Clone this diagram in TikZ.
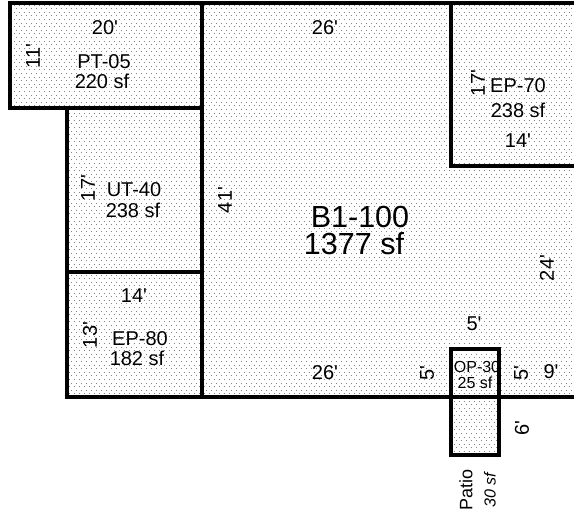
\documentclass[tikz,border=0pt]{standalone}
\usepackage{fontspec}
\newfontfamily\lab{Liberation Sans}
\tikzset{
  wall/.style={line width=3.8pt,line cap=rect,line join=miter},
  stipple/.style={line width=1pt,black!48,dash pattern=on 1pt off 4pt},
  dimv/.style={font=\lab\fontsize{20}{20}\selectfont,inner sep=0pt},
  dimr/.style={dimv,rotate=90},
  big/.style={font=\lab\fontsize{30.5}{30.5}\selectfont,inner sep=0pt},
  small/.style={font=\lab\fontsize{16}{16}\selectfont,inner sep=0pt}
}
\begin{document}
\begin{tikzpicture}[x=1pt,y=-1pt]
\useasboundingbox (0,0) rectangle (574,514);
\fill[white] (0,0) rectangle (574,514);
\begin{scope}
\clip (9,3)--(574,3)--(574,397)--(499,397)--(499,455)--(451,455)--(451,397)--(67,397)--(67,108)--(9,108)--cycle;
\foreach \r in {0,...,63}{
  \draw[stipple] (1,{\r*7.2+1.5})--(574,{\r*7.2+1.5});
  \draw[stipple] (3.5,{\r*7.2+5.1})--(574,{\r*7.2+5.1});
}
\end{scope}
\node[dimv] (a1) at (105,28) {20'};
\node[dimr] (a2) at (33,56) {11'};
\node[dimv] (a3) at (104,62) {PT-05};
\node[dimv] (a4) at (102,81) {220 sf};
\node[dimv] (b1) at (325,28) {26'};
\node[dimr] (c1) at (478,83) {17'};
\node[dimv] (c2) at (518,86) {EP-70};
\node[dimv] (c3) at (518,110) {238 sf};
\node[dimv] (c4) at (518,141) {14'};
\node[dimr] (d1) at (88,188) {17'};
\node[dimv] (d2) at (134,190) {UT-40};
\node[dimv] (d3) at (133,210) {238 sf};
\node[dimr] (e1) at (225,200) {41'};
\node[big] (f1) at (360,217) {B1-100};
\node[big] (f2) at (354,244) {1377 sf};
\node[dimr] (g1) at (547,268) {24'};
\node[dimv] (h1) at (134,296) {14'};
\node[dimr] (h2) at (90,335) {13'};
\node[dimv] (h3) at (140,339) {EP-80};
\node[dimv] (h4) at (137,358) {182 sf};
\node[dimv] (i1) at (325,373) {26'};
\node[dimv] (j1) at (474,324) {5'};
\node[dimr] (j2) at (427,373) {5'};
\node[small] (j3) at (477,367) {OP-30};
\node[small] (j4) at (475,383) {25 sf};
\node[dimr] (j5) at (521,373) {5'};
\node[dimv] (j6) at (551,372) {9'};
\node[dimr] (j7) at (522,428) {6'};
\node[dimr,font=\lab\fontsize{18}{18}\selectfont] (k1) at (466,490) {Patio};
\node[rotate=90,inner sep=0pt,font=\lab\itshape\fontsize{16}{16}\selectfont] (k2) at (490,490) {30 sf};
\draw[wall] (574,3)--(10,3)--(10,108)--(202,108);
\draw[wall] (202,3)--(202,397);
\draw[wall] (67,108)--(67,397);
\draw[wall] (67,272)--(202,272);
\draw[wall] (67,397)--(574,397);
\draw[wall] (574,166)--(451,166)--(451,3);
\draw[wall] (451,349) rectangle (499,455);
\end{tikzpicture}
\end{document}
